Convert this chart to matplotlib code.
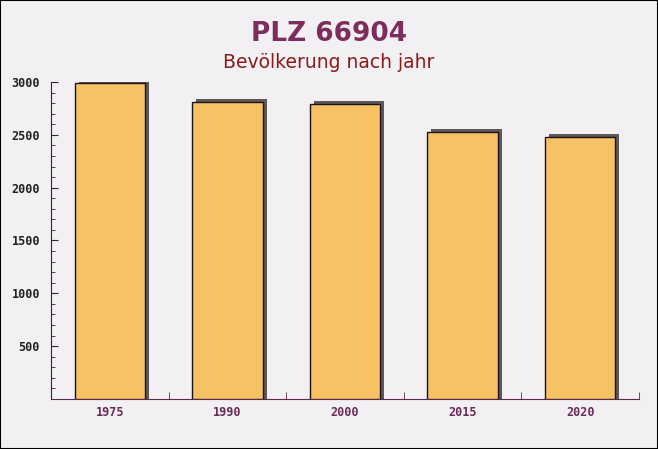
import matplotlib.pyplot as plt
import matplotlib.transforms as mtransforms
from matplotlib.patches import Rectangle

years = ['1975', '1990', '2000', '2015', '2020']
population = [2990, 2815, 2790, 2530, 2475]

fig = plt.figure(figsize=(6.58, 4.49), dpi=100, facecolor='#f2f0f2')
ax = fig.add_axes([0.0775, 0.1114, 0.8935, 0.706])
ax.set_facecolor('none')

x = list(range(len(years)))

# shadow, shifted a few pixels right and up
shadow = mtransforms.offset_copy(ax.transData, fig=fig, x=4, y=3, units='dots')
ax.bar(x, [p + 60 for p in population], bottom=-60, width=0.6,
       color='#5e5858', transform=shadow, zorder=2)
ax.bar(x, population, width=0.6, color='#f6c263', edgecolor='#1e1218',
       linewidth=1, zorder=3)

ax.set_xlim(-0.5, len(years) - 0.5)
ax.set_ylim(0, 3000)

ax.set_xticks(x)
ax.set_xticklabels(years)
ax.set_xticks([i + 0.5 for i in x], minor=True)
ax.tick_params(axis='x', which='major', length=0, pad=5, labelsize=8.5,
               labelcolor='#6a2a5a')
ax.tick_params(axis='x', which='minor', direction='in', length=5,
               color='#5a2a4a')

ax.set_yticks([500, 1000, 1500, 2000, 2500, 3000])
ax.set_yticks(range(100, 3001, 100), minor=True)
ax.tick_params(axis='y', which='major', direction='in', length=5, pad=8,
               labelsize=8.5, labelcolor='#222222', color='#3a2030')
ax.tick_params(axis='y', which='minor', direction='in', length=3,
               color='#3a2030')
for lab in ax.get_xticklabels() + ax.get_yticklabels():
    lab.set_family('DejaVu Sans Mono')
    lab.set_fontweight('bold')

for s in ['top', 'right']:
    ax.spines[s].set_visible(False)
ax.spines['left'].set_color('#3a2030')
ax.spines['bottom'].set_color('#5a2a4a')

fig.text(0.5, 0.925, 'PLZ 66904', ha='center', va='center', fontsize=19,
         fontweight='bold', color='#7b2d5b')
fig.text(0.5, 0.86, 'Bevölkerung nach jahr', ha='center', va='center',
         fontsize=13.5, color='#8b1a1a')

fig.patches.append(Rectangle((0, 0), 1, 1, transform=fig.transFigure,
                             fill=False, edgecolor='black', linewidth=1.5))

fig.savefig('out.png', dpi=100, facecolor=fig.get_facecolor())
